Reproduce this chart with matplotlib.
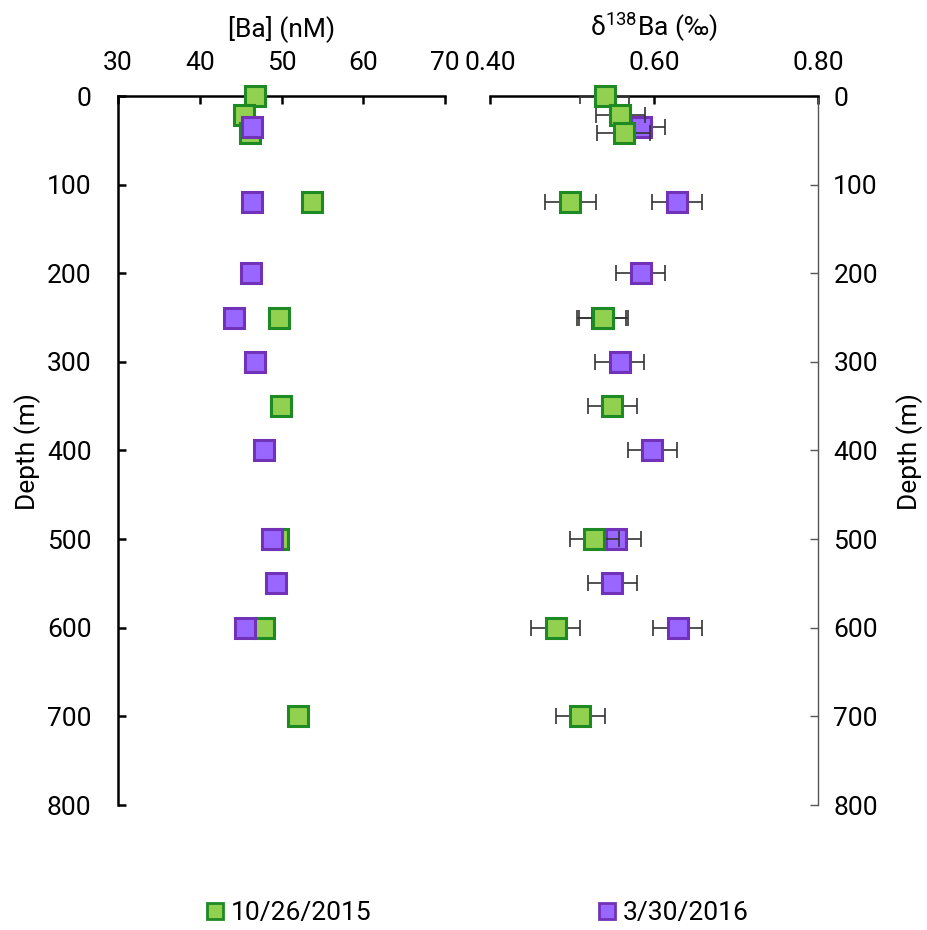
import numpy as np
import matplotlib
matplotlib.use('Agg')
import matplotlib.pyplot as plt
from matplotlib.lines import Line2D

plt.rcParams['font.family'] = ['Roboto', 'DejaVu Sans']
plt.rcParams['mathtext.fontset'] = 'custom'
plt.rcParams['mathtext.rm'] = 'Roboto'
plt.rcParams['font.size'] = 19

# 10/26/2015 cast
depth_2015 = [0, 21, 42, 120, 250, 350, 500, 600, 700]
ba_2015 = [46.8, 45.4, 46.2, 53.7, 49.7, 49.9, 49.6, 47.9, 52.0]
d138_2015 = [0.540, 0.559, 0.563, 0.498, 0.538, 0.549, 0.527, 0.480, 0.510]
err_2015 = [0.03, 0.03, 0.032, 0.031, 0.03, 0.03, 0.03, 0.03, 0.03]

# 3/30/2016 cast
depth_2016 = [35, 120, 200, 250, 300, 400, 500, 550, 600]
ba_2016 = [46.4, 46.4, 46.3, 44.2, 46.8, 47.9, 48.8, 49.3, 45.5]
d138_2016 = [0.584, 0.628, 0.584, 0.536, 0.558, 0.598, 0.554, 0.549, 0.629]
err_2016 = [0.03, 0.03, 0.03, 0.03, 0.03, 0.03, 0.03, 0.03, 0.03]

labels = ['10/26/2015', '3/30/2016']
green_fill, green_edge = '#92d050', '#1d8a24'
purple_fill, purple_edge = '#9966ff', '#7232b8'

W, H = 928, 930
fig = plt.figure(figsize=(W / 100, H / 100), dpi=100)

top, bottom = 96, 805
ax1 = fig.add_axes([118 / W, 1 - bottom / H, (445 - 118) / W, (bottom - top) / H])
ax2 = fig.add_axes([490 / W, 1 - bottom / H, (818 - 490) / W, (bottom - top) / H])

mk = dict(marker='s', ms=14, mew=2.2, linestyle='none', clip_on=False)

# [Ba] profile
ax1.plot(ba_2015, depth_2015, mfc=green_fill, mec=green_edge, zorder=3, **mk)
ax1.plot(ba_2016, depth_2016, mfc=purple_fill, mec=purple_edge, zorder=4, **mk)

# d138Ba profile with error bars (bars clipped to the plot area)
for x, y, e, fc, ec, z in [(d138_2016, depth_2016, err_2016, purple_fill, purple_edge, 3),
                           (d138_2015, depth_2015, err_2015, green_fill, green_edge, 4)]:
    ax2.errorbar(x, y, xerr=e, fmt='none', ecolor='#333333', elinewidth=1.2,
                 capsize=6, capthick=1.2, zorder=z)
    ax2.plot(x, y, mfc=fc, mec=ec, zorder=z + 0.5, **mk)

for ax in (ax1, ax2):
    ax.set_ylim(800, 0)
    ax.set_yticks(np.arange(0, 801, 100))
    ax.xaxis.tick_top()
    ax.xaxis.set_label_position('top')
    ax.spines['bottom'].set_visible(False)
    ax.spines['top'].set_linewidth(1.8)
    ax.tick_params(axis='x', direction='in', length=6, width=1.8, pad=15)

ax1.set_xlim(30, 70)
ax1.set_xticks([30, 40, 50, 60, 70])
ax1.spines['right'].set_visible(False)
ax1.spines['left'].set_linewidth(1.8)
ax1.tick_params(axis='y', direction='in', length=6, width=1.8, pad=19)
ax1.set_xlabel('[Ba] (nM)')
ax1.xaxis.set_label_coords(0.5, 1 + 60 / 709)

ax2.set_xlim(0.40, 0.80)
ax2.set_xticks([0.40, 0.60, 0.80])
ax2.set_xticklabels(['0.40', '0.60', '0.80'])
ax2.spines['left'].set_visible(False)
ax2.spines['right'].set_linewidth(1.0)
ax2.spines['right'].set_color('#555555')
ax2.yaxis.tick_right()
ax2.tick_params(axis='y', direction='in', length=6, width=1.0, color='#555555', pad=11)
ax2.set_xlabel(r'δ$^{\mathregular{138}}$Ba (‰)')
ax2.xaxis.set_label_coords(0.5, 1 + 60 / 709)

# depth titles on both outer sides
fig.text(28 / W, 1 - 452 / H, 'Depth (m)', rotation=90, ha='center', va='center')
fig.text(910 / W, 1 - 452 / H, 'Depth (m)', rotation=90, ha='center', va='center')

handles = [Line2D([], [], marker='s', ms=11.5, mew=2, mfc=green_fill, mec=green_edge, linestyle='none'),
           Line2D([], [], marker='s', ms=11.5, mew=2, mfc=purple_fill, mec=purple_edge, linestyle='none')]
fig.legend(handles, labels, loc='center', bbox_to_anchor=(478 / W, 1 - 913 / H), ncol=2,
           frameon=False, handlelength=0.6, handletextpad=0.3, columnspacing=8.6,
           borderaxespad=0)

fig.savefig('out.png', dpi=100, facecolor='white')
